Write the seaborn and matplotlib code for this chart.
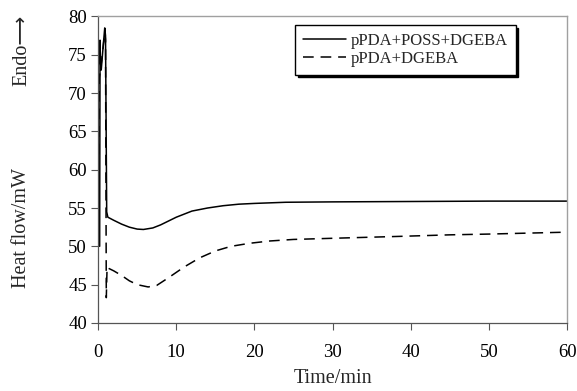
import matplotlib.pyplot as plt
import numpy as np
import pandas as pd
import seaborn as sns

# DSC curves
t_poss = [0.2, 0.22, 0.25, 0.3, 0.4, 0.6, 0.85, 0.95, 1.1, 1.25, 2, 3, 4, 5, 5.8,
          7, 8, 10, 12, 14, 16, 18, 20, 24, 30, 40, 50, 60]
hf_poss = [50, 62, 76.9, 74, 73, 75.5, 78.5, 77.5, 54.5, 53.8, 53.4, 52.9, 52.5, 52.25, 52.2,
           52.4, 52.8, 53.8, 54.6, 55.0, 55.3, 55.5, 55.6, 55.75, 55.8, 55.85, 55.9, 55.9]

t_dgeba = [0.1, 0.15, 0.3, 0.6, 0.85, 0.95, 1.0, 1.05, 1.15, 1.4, 2, 3, 4, 5, 6.4,
           7.5, 9, 11, 13, 15, 17, 19.4, 22, 25, 30, 38.6, 45, 50, 60]
hf_dgeba = [62, 72, 73, 75.5, 78, 77, 60, 43.3, 47.3, 47.1, 46.8, 46.2, 45.5, 45.0, 44.7,
            44.9, 45.9, 47.3, 48.5, 49.4, 50.0, 50.4, 50.7, 50.9, 51.05, 51.3, 51.5, 51.6, 51.85]

labels = ["pPDA+POSS+DGEBA", "pPDA+DGEBA"]

sns.set_theme(style="white")
plt.rcParams["font.family"] = ["Liberation Serif", "DejaVu Serif"]
plt.rcParams["font.size"] = 13

fig = plt.figure(figsize=(5.77, 3.91), dpi=100)
ax = fig.add_axes([0.170, 0.174, 0.813, 0.784])

df1 = pd.DataFrame({"t": t_poss, "hf": hf_poss})
df2 = pd.DataFrame({"t": t_dgeba, "hf": hf_dgeba})
sns.lineplot(data=df1, x="t", y="hf", ax=ax, color="black", lw=1.1, sort=False,
             estimator=None, label=labels[0])
sns.lineplot(data=df2, x="t", y="hf", ax=ax, color="black", lw=1.1, sort=False,
             estimator=None, label=labels[1], dashes=False)
ax.lines[1].set_dashes((7, 4.5))

ax.set_xlim(0, 60)
ax.set_ylim(40, 80)
ax.set_xticks(np.arange(0, 61, 10))
ax.set_yticks(np.arange(40, 81, 5))
ax.tick_params(axis="both", which="both", direction="out", length=5, width=0.8,
               color="#555555", labelsize=13.5, labelcolor="black", pad=3,
               left=True, bottom=True)
ax.tick_params(axis="x", pad=10)
for side in ["left", "bottom"]:
    ax.spines[side].set_color("#555555")
    ax.spines[side].set_linewidth(0.9)
for side in ["top", "right"]:
    ax.spines[side].set_color("#a0a0a0")
    ax.spines[side].set_linewidth(1.0)

ax.set_xlabel("Time/min", fontsize=14.5, labelpad=6)
ax.set_ylabel("")
fig.text(0.038, 0.418, "Heat flow/mW", rotation=90, ha="center", va="center", fontsize=14.5)
fig.text(0.038, 0.87, "Endo⟶", rotation=90, ha="center", va="center", fontsize=14.5,
         family=["Liberation Serif", "DejaVu Sans"])

leg = ax.legend(loc="upper left", bbox_to_anchor=(0.42, 0.972), borderaxespad=0,
                frameon=True, fancybox=False, edgecolor="black", framealpha=1,
                shadow={"color": "black", "alpha": 1}, fontsize=12,
                handlelength=2.6, handletextpad=0.3, labelspacing=0.15,
                borderpad=0.45)
leg.get_frame().set_linewidth(1.0)

fig.savefig("out.png", dpi=100)
